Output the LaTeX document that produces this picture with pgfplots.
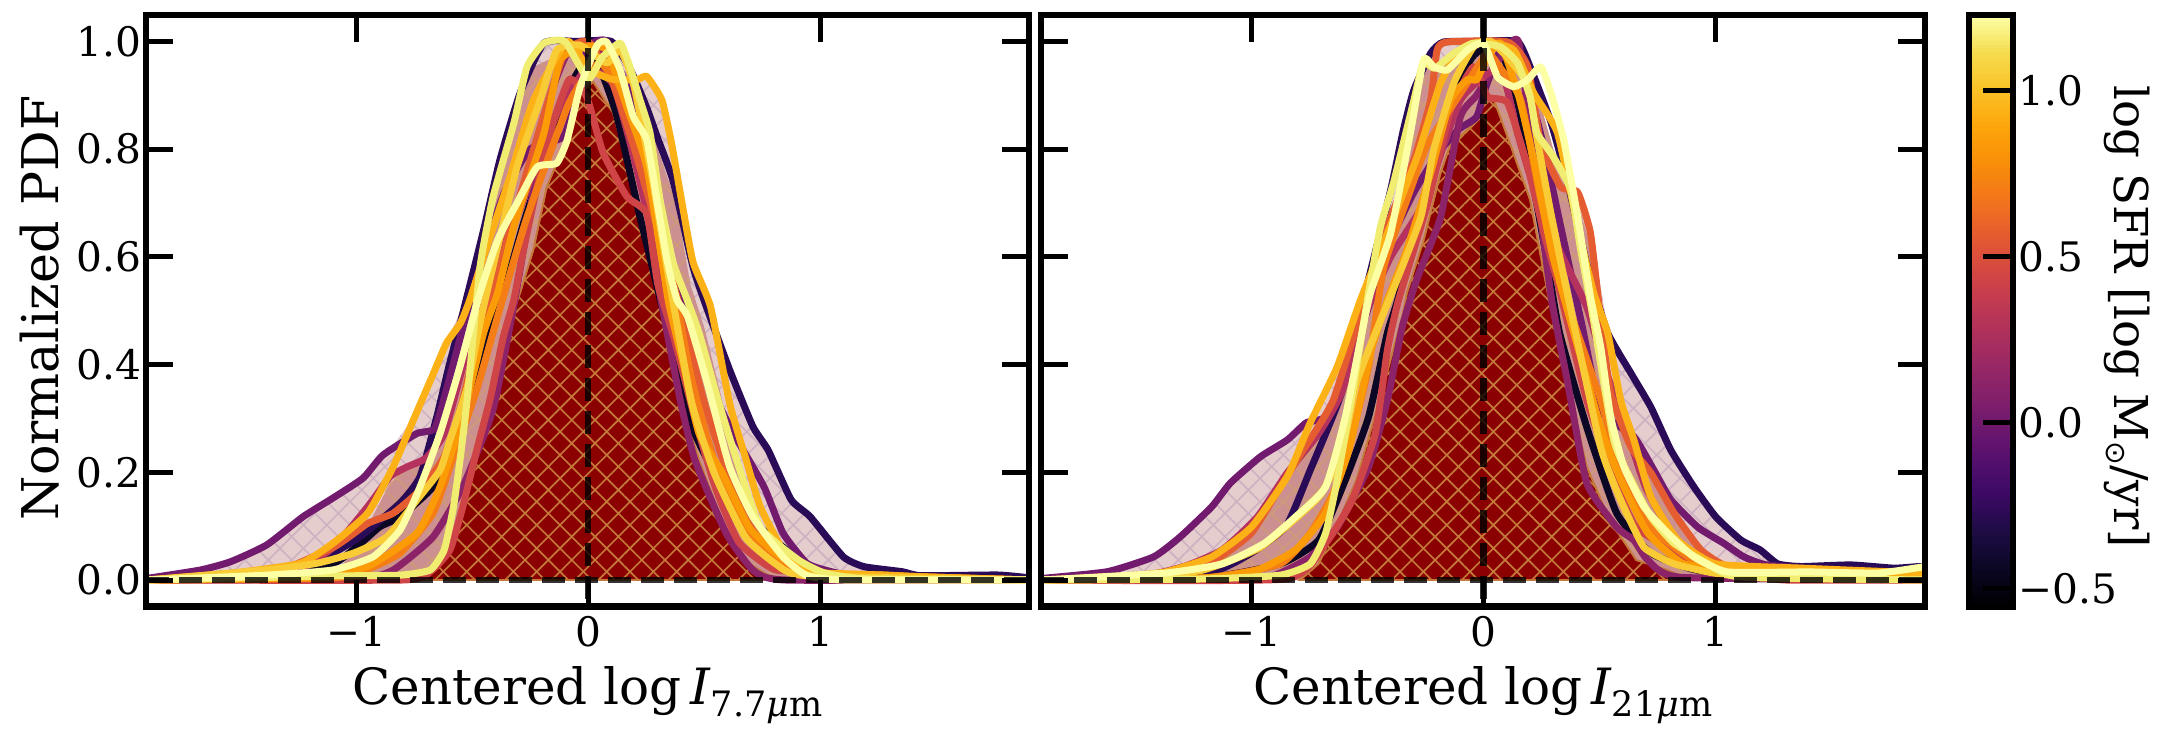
\documentclass[border=0pt]{standalone}
\usepackage{fontspec}
\setmainfont{DejaVu Serif}
\newfontfamily\dvs{DejaVu Sans}
\usepackage{pgfplots}
\pgfplotsset{compat=1.18}
\usetikzlibrary{patterns.meta}
\definecolor{cA}{HTML}{0B0724}\definecolor{cB}{HTML}{2A0B57}\definecolor{cC}{HTML}{711A6E}
\definecolor{cD}{HTML}{8C2369}\definecolor{cE}{HTML}{B5325E}\definecolor{cF}{HTML}{CF4446}
\definecolor{cG}{HTML}{E55C30}\definecolor{cH}{HTML}{F57D15}\definecolor{cI}{HTML}{FB9B06}
\definecolor{cJ}{HTML}{FCB216}\definecolor{cK}{HTML}{F9CB35}\definecolor{cL}{HTML}{F1ED71}
\definecolor{cM}{HTML}{FCFFA4}
\definecolor{fillA}{HTML}{E6CDCD}\definecolor{hatchA}{HTML}{CFB2C2}
\definecolor{fillB}{HTML}{CC9090}\definecolor{hatchB}{HTML}{CE9A7A}
\definecolor{fillC}{HTML}{8B0000}\definecolor{hatchC}{HTML}{C47A3A}
\pgfplotsset{colormap={inferno}{
 HTML=(000004) HTML=(0B0724) HTML=(1E0C45) HTML=(3C0965) HTML=(57106E) HTML=(721A6E)
 HTML=(8C2369) HTML=(A52C60) HTML=(BC3754) HTML=(D24644) HTML=(E45A31) HTML=(F2741C)
 HTML=(F98E09) HTML=(FCA50A) HTML=(FAC127) HTML=(F5DB4C) HTML=(FCFFA4)}}
\pgfplotsset{
 panel/.style={scale only axis, width=264.9pt, height=177.5pt,
  xmin=-1.905, xmax=1.9, ymin=-0.0496, ymax=1.049,
  axis line style={line width=2pt}, axis on top,
  major tick style={line width=1.5pt, black}, major tick length=8.1pt,
  tick align=inside, tick pos=both,
  xtick={-1,0,1}, xticklabels={−1,0,1},
  ytick={0,0.2,0.4,0.6,0.8,1.0},
  tick label style={font=\fontsize{12.2}{14}\selectfont},
  xticklabel style={inner sep=0pt, yshift=-2.6pt},
  yticklabel style={inner sep=0pt, xshift=-1.2pt},
  xlabel style={font=\fontsize{15}{18}\selectfont, inner sep=0pt, at={(axis description cs:0.5,-0.1)}, anchor=north},
  ylabel style={font=\fontsize{15.2}{18}\selectfont, inner sep=0pt},
 },
 cl/.style={line width=2.1pt, line join=round, line cap=round, smooth, tension=0.3, no markers, color=#1},
 zero/.style={line width=2pt, black, opacity=0.8, dash pattern=on 6.9pt off 3pt, no markers},
 areaA/.style={fill=fillA, draw=none, no markers, postaction={pattern={Hatch[angle=45,distance=4.95pt,line width=0.5pt]},pattern color=hatchA}},
 areaB/.style={fill=fillB, draw=none, no markers, postaction={pattern={Hatch[angle=45,distance=4.95pt,line width=0.5pt]},pattern color=hatchB}},
 areaC/.style={fill=fillC, draw=hatchC, line width=0.5pt, no markers, postaction={pattern={Hatch[angle=45,distance=4.95pt,line width=0.5pt]},pattern color=hatchC}},
}
\newcommand\sbs[1]{\raisebox{-0.45ex}{\fontsize{10.5}{12}\selectfont #1}}
\begin{document}
\begin{tikzpicture}
\useasboundingbox (0pt,0pt) rectangle (653.1pt,220.5pt);
% ---------------- left panel
\begin{axis}[panel, at={(43.8pt,38.49pt)}, anchor=south west,
  yticklabels={0.0,0.2,0.4,0.6,0.8,1.0},
  xlabel={Centered log\,\textit{I}\sbs{7.7\textit{μ}m}}, ylabel={Normalized PDF},
  ylabel style={at={(axis description cs:-0.12,0.505)}, anchor=center}]
\addplot[areaA] coordinates {(-1.9,0.003)(-1.67,0.0186)(-1.54,0.034)(-1.385,0.065)(-1.228,0.1175)(-1.1,0.152)(-0.97,0.189)(-0.884,0.232)(-0.84,0.25)(-0.738,0.31)(-0.666,0.384)(-0.61,0.44)(-0.55,0.5)(-0.45,0.65)(-0.38,0.78)(-0.293,0.904)(-0.19,0.997)(0.14,1.0)(0.21,0.929)(0.253,0.935)(0.318,0.891)(0.36,0.81)(0.41,0.687)(0.453,0.589)(0.528,0.507)(0.61,0.39)(0.71,0.285)(0.776,0.241)(0.875,0.149)(0.957,0.1175)(1.1,0.043)(1.19,0.0247)(1.354,0.0154)(1.435,0.008)(1.765,0.0093)(1.9,0.004)(1.9,0)(-1.9,0)} \closedcycle;
\addplot[areaB] coordinates {(-1.1,0)(-0.95,0.1)(-0.853,0.18)(-0.78,0.21)(-0.7,0.226)(-0.62,0.29)(-0.5,0.5)(-0.4,0.7)(-0.25,0.95)(0,1)(0.2,0.93)(0.3,0.8)(0.38,0.7)(0.44,0.55)(0.5,0.47)(0.58,0.33)(0.65,0.2)(0.72,0.11)(0.85,0.03)(1,0)} \closedcycle;
\addplot[areaC] coordinates {(-0.853,0)(-0.68,0.012)(-0.6,0.05)(-0.54,0.13)(-0.48,0.24)(-0.42,0.34)(-0.365,0.45)(-0.293,0.533)(-0.236,0.613)(-0.178,0.73)(-0.135,0.774)(-0.09,0.83)(-0.034,0.904)(0.022,0.925)(0.108,0.867)(0.195,0.73)(0.253,0.626)(0.296,0.533)(0.397,0.334)(0.478,0.223)(0.595,0.087)(0.694,0.03)(0.808,0)} \closedcycle;
\addplot[cl=cA] coordinates {(-1.9,0)(-1.4,0.004)(-1.1,0.03)(-0.98,0.068)(-0.897,0.099)(-0.81,0.117)(-0.694,0.161)(-0.62,0.2)(-0.54,0.3)(-0.44,0.44)(-0.364,0.533)(-0.28,0.66)(-0.19,0.78)(-0.1,0.9)(0,0.97)(0.06,0.94)(0.125,0.86)(0.224,0.674)(0.3,0.54)(0.38,0.4)(0.46,0.272)(0.61,0.149)(0.84,0.061)(0.95,0.02)(1.1,0.006)(1.9,0)};
\addplot[cl=cB] coordinates {(-1.9,0)(-1.24,0.025)(-1,0.075)(-0.81,0.143)(-0.724,0.192)(-0.652,0.303)(-0.6,0.396)(-0.54,0.495)(-0.45,0.65)(-0.38,0.78)(-0.293,0.904)(-0.19,0.997)(-0.05,1)(0.1,1)(0.18,0.95)(0.25,0.88)(0.3,0.82)(0.367,0.74)(0.453,0.58)(0.51,0.507)(0.61,0.39)(0.71,0.285)(0.776,0.241)(0.875,0.149)(0.957,0.1175)(1.1,0.043)(1.19,0.0247)(1.354,0.0154)(1.435,0.008)(1.765,0.0093)(1.9,0.004)};
\addplot[cl=cC] coordinates {(-1.9,0.003)(-1.67,0.0186)(-1.54,0.034)(-1.385,0.065)(-1.228,0.1175)(-1.1,0.152)(-0.97,0.189)(-0.884,0.232)(-0.738,0.272)(-0.66,0.282)(-0.6,0.37)(-0.52,0.5)(-0.44,0.62)(-0.36,0.72)(-0.25,0.8)(-0.107,0.823)(-0.05,0.9)(0,0.99)(0.08,1)(0.18,0.9)(0.28,0.72)(0.4,0.52)(0.5,0.4)(0.56,0.328)(0.643,0.26)(0.758,0.173)(0.84,0.087)(0.94,0.032)(1.02,0.0186)(1.2,0.004)(1.9,0)};
\addplot[cl=cD] coordinates {(-1.9,0)(-1,0.002)(-0.84,0.0186)(-0.668,0.08)(-0.54,0.173)(-0.41,0.316)(-0.32,0.51)(-0.25,0.687)(-0.178,0.878)(-0.1,0.97)(-0.03,1)(0.08,0.97)(0.18,0.83)(0.253,0.693)(0.31,0.53)(0.397,0.334)(0.46,0.223)(0.595,0.087)(0.71,0.0186)(0.85,0)(1.9,0)};
\addplot[cl=cE] coordinates {(-1.9,0)(-1.3,0.01)(-1.1,0.06)(-0.95,0.136)(-0.853,0.192)(-0.78,0.21)(-0.7,0.226)(-0.62,0.272)(-0.52,0.427)(-0.4,0.58)(-0.293,0.69)(-0.2,0.8)(-0.107,0.89)(0,0.95)(0.108,0.92)(0.2,0.78)(0.3,0.6)(0.4,0.43)(0.5,0.28)(0.6,0.15)(0.7,0.07)(0.85,0.02)(1,0.005)(1.9,0)};
\addplot[cl=cF] coordinates {(-1.9,0)(-0.8,0)(-0.68,0.0154)(-0.595,0.056)(-0.54,0.136)(-0.48,0.241)(-0.42,0.34)(-0.365,0.452)(-0.32,0.52)(-0.28,0.61)(-0.22,0.73)(-0.15,0.85)(-0.08,0.93)(-0.006,0.897)(0.065,0.793)(0.167,0.712)(0.253,0.68)(0.3,0.55)(0.37,0.45)(0.46,0.3)(0.55,0.17)(0.65,0.07)(0.8,0.02)(1,0.012)(1.2,0)(1.9,0)};
\addplot[cl=cG] coordinates {(-1.9,0)(-1.4,0.008)(-1.1,0.06)(-0.95,0.105)(-0.84,0.124)(-0.724,0.167)(-0.62,0.229)(-0.54,0.334)(-0.48,0.446)(-0.42,0.52)(-0.33,0.66)(-0.2,0.85)(-0.1,0.98)(0,1)(0.1,0.93)(0.2,0.8)(0.3,0.65)(0.4,0.5)(0.5,0.33)(0.6,0.2)(0.7,0.1)(0.85,0.035)(1,0.01)(1.9,0)};
\addplot[cl=cH] coordinates {(-1.9,0)(-1.1,0.004)(-0.95,0.02)(-0.81,0.05)(-0.668,0.124)(-0.58,0.229)(-0.48,0.353)(-0.39,0.489)(-0.263,0.674)(-0.09,0.878)(-0.02,0.93)(0.05,0.96)(0.13,0.92)(0.237,0.804)(0.325,0.644)(0.444,0.377)(0.543,0.223)(0.677,0.098)(0.84,0.03)(1,0.012)(1.9,0)};
\addplot[cl=cI] coordinates {(-1.9,0)(-1.2,0.004)(-0.95,0.025)(-0.737,0.087)(-0.638,0.173)(-0.54,0.303)(-0.45,0.459)(-0.39,0.533)(-0.32,0.656)(-0.19,0.83)(-0.12,0.966)(-0.006,0.99)(0.08,0.984)(0.167,0.878)(0.253,0.767)(0.345,0.52)(0.413,0.396)(0.478,0.272)(0.578,0.199)(0.694,0.098)(0.808,0.05)(0.94,0.015)(1.27,0.0093)(1.435,0.006)(1.9,0)};
\addplot[cl=cJ] coordinates {(-1.9,0)(-1.53,0.013)(-1.24,0.031)(-1.1,0.068)(-0.95,0.124)(-0.84,0.21)(-0.74,0.31)(-0.666,0.384)(-0.61,0.44)(-0.55,0.477)(-0.51,0.52)(-0.42,0.64)(-0.336,0.749)(-0.236,0.89)(-0.09,1)(0,0.95)(0.1,0.93)(0.21,0.929)(0.253,0.935)(0.318,0.891)(0.36,0.81)(0.41,0.687)(0.453,0.589)(0.528,0.507)(0.61,0.328)(0.677,0.229)(0.742,0.136)(0.84,0.056)(0.957,0.0154)(1.27,0.0093)(1.435,0.006)(1.9,0)};
\addplot[cl=cK] coordinates {(-1.9,0)(-1.385,0.0186)(-1.17,0.031)(-1.01,0.05)(-0.867,0.08)(-0.737,0.149)(-0.638,0.204)(-0.595,0.26)(-0.52,0.359)(-0.46,0.489)(-0.39,0.618)(-0.306,0.767)(-0.207,0.891)(-0.135,0.984)(-0.034,0.993)(0.08,0.96)(0.138,0.984)(0.195,0.923)(0.28,0.737)(0.34,0.58)(0.444,0.334)(0.543,0.199)(0.677,0.08)(0.808,0.03)(0.94,0.008)(1.9,0)};
\addplot[cl=cL] coordinates {(-1.9,0)(-1.1,0.0074)(-0.81,0.009)(-0.68,0.0186)(-0.62,0.056)(-0.58,0.136)(-0.55,0.229)(-0.52,0.34)(-0.466,0.58)(-0.41,0.71)(-0.32,0.848)(-0.263,0.953)(-0.19,0.997)(-0.1,1)(0,0.93)(0.06,0.97)(0.138,0.997)(0.18,0.953)(0.224,0.891)(0.267,0.83)(0.31,0.706)(0.367,0.589)(0.427,0.52)(0.478,0.459)(0.56,0.334)(0.64,0.223)(0.742,0.098)(0.907,0.037)(1.02,0.013)(1.2,0.002)(1.9,0)};
\addplot[cl=cM] coordinates {(-1.9,0)(-1.385,0.009)(-1.1,0.0186)(-0.927,0.043)(-0.81,0.093)(-0.724,0.173)(-0.638,0.272)(-0.552,0.396)(-0.466,0.533)(-0.39,0.631)(-0.306,0.7)(-0.22,0.767)(-0.135,0.774)(-0.09,0.817)(-0.034,0.916)(0.039,0.993)(0.08,0.999)(0.138,0.947)(0.195,0.86)(0.253,0.817)(0.296,0.706)(0.34,0.594)(0.383,0.52)(0.429,0.489)(0.513,0.366)(0.61,0.21)(0.71,0.117)(0.84,0.043)(0.94,0.009)(1.1,0)(1.9,0)};
\addplot[zero] coordinates {(-1.905,0)(1.9,0)};
\addplot[zero] coordinates {(0,1.049)(0,-0.0496)};
\end{axis}
% ---------------- right panel
\begin{axis}[panel, width=265.2pt, at={(312.3pt,38.49pt)}, anchor=south west,
  yticklabels={},
  xlabel={Centered log\,\textit{I}\sbs{21\textit{μ}m}}]
\addplot[areaA] coordinates {(-1.9,0.003)(-1.62,0.0154)(-1.42,0.043)(-1.306,0.08)(-1.17,0.136)(-1.09,0.18)(-0.96,0.229)(-0.845,0.26)(-0.763,0.292)(-0.746,0.292)(-0.63,0.396)(-0.53,0.52)(-0.4,0.724)(-0.345,0.836)(-0.3,0.91)(-0.228,0.978)(-0.172,0.999)(0.146,1)(0.2,0.953)(0.332,0.75)(0.405,0.72)(0.46,0.644)(0.512,0.526)(0.534,0.459)(0.634,0.384)(0.72,0.321)(0.806,0.241)(0.905,0.173)(1,0.117)(1.108,0.074)(1.19,0.056)(1.266,0.03)(1.366,0.025)(1.58,0.028)(1.767,0.022)(1.88,0.025)(1.9,0.02)(1.9,0)(-1.9,0)} \closedcycle;
\addplot[areaB] coordinates {(-1.3,0)(-1.125,0.056)(-0.974,0.117)(-0.845,0.199)(-0.71,0.272)(-0.612,0.347)(-0.513,0.489)(-0.4,0.68)(-0.25,0.95)(0,1)(0.2,0.95)(0.3,0.8)(0.405,0.7)(0.46,0.62)(0.504,0.483)(0.547,0.347)(0.634,0.247)(0.72,0.199)(0.82,0.124)(0.935,0.056)(1.05,0.025)(1.2,0)} \closedcycle;
\addplot[areaC] coordinates {(-0.79,0)(-0.71,0.03)(-0.647,0.087)(-0.547,0.186)(-0.448,0.334)(-0.35,0.489)(-0.33,0.533)(-0.258,0.631)(-0.185,0.756)(-0.142,0.81)(-0.07,0.836)(-0.004,0.878)(0.04,0.897)(0.103,0.823)(0.2,0.706)(0.276,0.533)(0.345,0.396)(0.444,0.21)(0.543,0.111)(0.657,0.037)(0.79,0.0186)(0.89,0)} \closedcycle;
\addplot[cl=cA] coordinates {(-1.9,0)(-1.2,0.004)(-0.875,0.03)(-0.71,0.074)(-0.595,0.186)(-0.495,0.303)(-0.414,0.459)(-0.37,0.52)(-0.25,0.72)(-0.15,0.88)(-0.05,0.97)(0.06,1)(0.15,0.88)(0.22,0.72)(0.27,0.6)(0.327,0.459)(0.444,0.284)(0.573,0.124)(0.72,0.05)(0.9,0.02)(1.1,0.01)(1.9,0.005)};
\addplot[cl=cB] coordinates {(-1.9,0)(-1.2,0.012)(-1,0.05)(-0.85,0.1)(-0.75,0.2)(-0.612,0.347)(-0.5,0.55)(-0.4,0.724)(-0.345,0.836)(-0.3,0.91)(-0.228,0.978)(-0.172,0.999)(0,1)(0.146,1)(0.2,0.953)(0.29,0.85)(0.362,0.737)(0.448,0.58)(0.534,0.459)(0.634,0.384)(0.72,0.321)(0.806,0.241)(0.905,0.173)(1,0.117)(1.108,0.074)(1.19,0.056)(1.266,0.03)(1.366,0.025)(1.58,0.028)(1.767,0.022)(1.88,0.025)(1.9,0.02)};
\addplot[cl=cC] coordinates {(-1.9,0.003)(-1.62,0.0154)(-1.42,0.043)(-1.306,0.08)(-1.17,0.136)(-1.09,0.18)(-0.96,0.229)(-0.845,0.26)(-0.763,0.292)(-0.68,0.303)(-0.6,0.38)(-0.5,0.5)(-0.4,0.63)(-0.3,0.72)(-0.2,0.79)(-0.11,0.836)(-0.03,0.86)(0.01,0.916)(0.08,0.99)(0.15,0.98)(0.25,0.82)(0.33,0.66)(0.42,0.48)(0.504,0.316)(0.647,0.266)(0.733,0.204)(0.806,0.149)(0.922,0.098)(1.034,0.068)(1.12,0.043)(1.22,0.028)(1.5,0.018)(1.9,0.01)};
\addplot[cl=cD] coordinates {(-1.9,0)(-1,0.002)(-0.875,0.013)(-0.746,0.043)(-0.63,0.098)(-0.495,0.21)(-0.414,0.334)(-0.35,0.47)(-0.286,0.56)(-0.185,0.674)(-0.1,0.86)(-0.03,0.9)(0.073,0.97)(0.15,1)(0.22,0.76)(0.293,0.52)(0.362,0.366)(0.444,0.18)(0.573,0.098)(0.647,0.074)(0.707,0.037)(0.85,0.005)(1.9,0)};
\addplot[cl=cE] coordinates {(-1.9,0)(-1.5,0.005)(-1.29,0.025)(-1.125,0.056)(-0.974,0.117)(-0.845,0.199)(-0.71,0.272)(-0.612,0.347)(-0.513,0.489)(-0.4,0.6)(-0.258,0.7)(-0.1,0.891)(0.07,0.95)(0.146,0.83)(0.216,0.73)(0.332,0.607)(0.444,0.507)(0.52,0.396)(0.6,0.3)(0.7,0.17)(0.85,0.06)(1,0.02)(1.2,0.005)(1.9,0)};
\addplot[cl=cF] coordinates {(-1.9,0)(-0.85,0.002)(-0.68,0.068)(-0.565,0.149)(-0.466,0.272)(-0.414,0.427)(-0.366,0.52)(-0.24,0.7)(-0.142,0.873)(-0.043,0.953)(0.017,0.897)(0.103,0.886)(0.19,0.767)(0.26,0.644)(0.32,0.55)(0.372,0.459)(0.444,0.334)(0.543,0.21)(0.657,0.098)(0.93,0.028)(1.1,0.012)(1.3,0)(1.9,0)};
\addplot[cl=cG] coordinates {(-1.9,0)(-1.37,0.013)(-1.157,0.037)(-1,0.087)(-0.875,0.173)(-0.777,0.241)(-0.647,0.334)(-0.513,0.52)(-0.474,0.58)(-0.4,0.674)(-0.3,0.78)(-0.228,0.891)(-0.2,0.984)(-0.156,0.999)(0.103,0.999)(0.19,0.953)(0.246,0.81)(0.332,0.73)(0.405,0.72)(0.46,0.644)(0.504,0.483)(0.547,0.347)(0.634,0.247)(0.72,0.199)(0.82,0.124)(0.935,0.056)(1.05,0.025)(1.3,0.01)(1.9,0.005)};
\addplot[cl=cH] coordinates {(-1.9,0)(-1.2,0.004)(-0.875,0.03)(-0.746,0.087)(-0.647,0.161)(-0.565,0.272)(-0.495,0.396)(-0.43,0.58)(-0.315,0.724)(-0.24,0.81)(-0.07,0.923)(0.017,0.978)(0.073,0.95)(0.16,0.891)(0.246,0.706)(0.332,0.551)(0.504,0.334)(0.59,0.199)(0.72,0.098)(0.905,0.037)(1.2,0.012)(1.9,0.005)};
\addplot[cl=cI] coordinates {(-1.9,0)(-1.2,0.004)(-0.974,0.0186)(-0.81,0.056)(-0.68,0.124)(-0.58,0.241)(-0.483,0.427)(-0.414,0.52)(-0.33,0.613)(-0.228,0.756)(-0.142,0.891)(-0.07,0.929)(-0.03,0.929)(0.017,0.97)(0.073,0.997)(0.15,0.9)(0.216,0.78)(0.302,0.594)(0.504,0.284)(0.59,0.186)(0.707,0.087)(0.862,0.03)(1.078,0.025)(1.5,0.015)(1.88,0.009)(1.9,0.009)};
\addplot[cl=cJ] coordinates {(-1.9,0)(-1.6,0.005)(-1.37,0.015)(-1.17,0.043)(-1,0.098)(-0.845,0.192)(-0.746,0.292)(-0.63,0.396)(-0.53,0.52)(-0.414,0.644)(-0.286,0.786)(-0.185,0.923)(-0.1,0.984)(0,1)(0.13,0.984)(0.216,0.904)(0.318,0.83)(0.405,0.656)(0.474,0.533)(0.534,0.459)(0.59,0.334)(0.647,0.26)(0.72,0.154)(0.836,0.074)(1,0.03)(1.37,0.022)(1.88,0.013)(1.9,0.013)};
\addplot[cl=cK] coordinates {(-1.9,0)(-1.5,0.004)(-1.207,0.0186)(-0.96,0.061)(-0.71,0.154)(-0.61,0.24)(-0.547,0.366)(-0.483,0.44)(-0.37,0.56)(-0.27,0.674)(-0.215,0.798)(-0.128,0.923)(-0.043,0.99)(0.03,1)(0.103,0.97)(0.19,0.92)(0.226,0.83)(0.29,0.68)(0.36,0.533)(0.504,0.247)(0.59,0.149)(0.69,0.061)(0.82,0.03)(0.99,0.013)(1.2,0.004)(1.9,0)};
\addplot[cl=cL] coordinates {(-1.9,0)(-1.2,0.002)(-0.875,0.009)(-0.746,0.03)(-0.68,0.087)(-0.63,0.186)(-0.565,0.347)(-0.5,0.52)(-0.444,0.656)(-0.388,0.737)(-0.3,0.891)(-0.26,0.96)(-0.21,0.95)(-0.128,0.978)(-0.043,0.997)(0.073,0.99)(0.146,0.96)(0.2,0.897)(0.23,0.83)(0.3,0.786)(0.375,0.724)(0.418,0.613)(0.474,0.48)(0.56,0.26)(0.634,0.186)(0.72,0.117)(0.82,0.068)(0.966,0.03)(1.1,0.006)(1.9,0)};
\addplot[cl=cM] coordinates {(-1.9,0)(-1.37,0.013)(-1.125,0.03)(-0.944,0.068)(-0.81,0.117)(-0.68,0.173)(-0.595,0.303)(-0.53,0.446)(-0.487,0.533)(-0.4,0.644)(-0.315,0.83)(-0.258,0.966)(-0.215,0.953)(-0.156,0.947)(-0.07,0.984)(0,0.997)(0.06,0.934)(0.13,0.916)(0.19,0.929)(0.246,0.953)(0.29,0.904)(0.345,0.817)(0.405,0.674)(0.46,0.526)(0.504,0.433)(0.547,0.303)(0.604,0.21)(0.69,0.136)(0.793,0.087)(0.905,0.043)(1.05,0.015)(1.4,0.015)(1.7,0.013)(1.9,0.025)};
\addplot[zero] coordinates {(-1.905,0)(1.9,0)};
\addplot[zero] coordinates {(0,1.049)(0,-0.0496)};
\end{axis}
% ---------------- colour bar
\begin{axis}[scale only axis, width=13.2pt, height=177.5pt, at={(590.7pt,38.49pt)}, anchor=south west,
  xmin=0, xmax=1, ymin=-0.554, ymax=1.228, xtick=\empty,
  ytick={-0.5,0,0.5,1}, yticklabels={−0.5,0.0,0.5,1.0},
  axis line style={line width=2pt}, axis on top,
  major tick style={line width=1.5pt, black}, major tick length=9pt,
  tick align=inside, ytick pos=right, yticklabel pos=right,
  tick label style={font=\fontsize{12.2}{14}\selectfont},
  yticklabel style={inner sep=0pt, xshift=1.5pt},
  ylabel={log SFR [log M\raisebox{-0.35ex}{\fontsize{8.5}{10}\dvs ⊙}/yr]},
  ylabel style={font=\fontsize{14}{17}\selectfont, inner sep=0pt, at={(axis description cs:3.6,0.49)}, anchor=center, rotate=180}]
\pgfplotsinvokeforeach{0,...,159}{
  \fill[color of colormap={#1*6.289 of inferno}] (axis cs:0,{-0.554+#1*0.0111375}) rectangle (axis cs:1,{-0.554+(#1+1.4)*0.0111375});
}
\end{axis}
\end{tikzpicture}
\end{document}
